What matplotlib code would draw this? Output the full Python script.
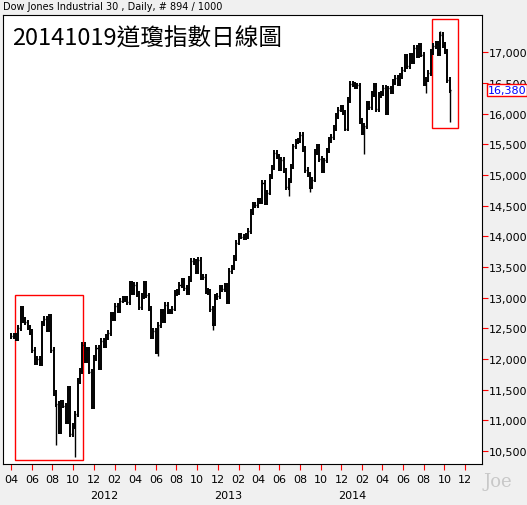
import matplotlib.pyplot as plt
import matplotlib.dates as mdates
import matplotlib.patches as mpatches
import pandas as pd

plt.rcParams['font.family'] = ['DejaVu Sans', 'Noto Sans CJK TC']

# weekly closes (Fri), starting 2011-04-01
closes = [
    12376, 12380, 12341, 12505, 12811, 12638, 12596, 12512, 12441, 12151,
    11952, 12004, 11934, 12582, 12657, 12480, 12681, 12143, 11444, 11269,
    10818, 11285, 11240, 10992, 11509, 10771, 10913, 11103, 11644, 11809,
    12231, 11983, 12153, 11796, 11231, 12019, 12184, 11867, 12294, 12218,
    12360, 12422, 12720, 12660, 12862, 12801, 12950, 12983, 12978, 12922,
    13233, 13081, 13212, 13060, 12850, 13029, 13228, 13038, 12820, 12369,
    12455, 12119, 12554, 12767, 12640, 12880, 12772, 12777, 12822, 13075,
    13096, 13207, 13275, 13158, 13090, 13306, 13593, 13579, 13437, 13610,
    13328, 13343, 13107, 13093, 12815, 12588, 13010, 13026, 13155, 13135,
    13190, 12938,
    13435, 13488, 13650, 13896, 14010, 13993, 13982, 14001, 14090, 14397,
    14515, 14512, 14579, 14565, 14865, 14548, 14712, 14974, 15118, 15354,
    15303, 15116, 15248, 15070, 14800, 14910, 15136, 15464, 15544, 15559,
    15658, 15425, 15081, 15010, 14810, 14922, 15376, 15452, 15258, 15073,
    15237, 15400, 15570, 15615, 15762, 15962, 16065, 16086, 16020, 15755,
    16221, 16479,
    16469, 16437, 16459, 15880, 15699, 15794, 16154, 16104, 16322, 16453,
    16066, 16303, 16323, 16413, 16027, 16409, 16361, 16513, 16584, 16492,
    16607, 16717, 16924, 16776, 16947, 16851, 17068, 16944, 17100, 16961,
    16493, 16553, 16663, 17001, 17098, 17138, 16988, 17280, 17113, 17009,
    16544, 16380,
]
# intraweek extremes that stick out
spike_dates = ['2011-08-12', '2011-10-07', '2012-06-08', '2012-11-16', '2013-06-28',
               '2013-08-30', '2014-02-07', '2014-08-08', '2014-09-19', '2014-10-17']
spike_vals = [10600, 10400, 12050, 12480, 14650, 14720, 15340, 16330, 17350, 15855]

dates = pd.date_range('2011-04-01', periods=len(closes), freq='W-FRI')

fig = plt.figure(figsize=(5.27, 5.06), dpi=100, facecolor='#f0f0f0')
ax = fig.add_axes([3/527, 41/506, 479/527, 449/506])
ax.set_facecolor('white')

pad = 45
prev = closes[0]
for d, c in zip(dates, closes):
    lo, hi = min(prev, c) - pad, max(prev, c) + pad
    ax.vlines(d, lo, hi, color='black', lw=1.4)
    ax.hlines(c, d, d + pd.Timedelta(days=3), color='black', lw=1)
    prev = c
for d, v in zip(pd.to_datetime(spike_dates), spike_vals):
    i = dates.get_indexer([d], method='nearest')[0]
    ax.vlines(dates[i], v, closes[i], color='black', lw=1)

ax.set_xlim(pd.Timestamp('2011-03-08'), pd.Timestamp('2015-01-20'))
ax.set_ylim(10290, 17605)

def box(x0, x1, y0, y1):
    a, b = mdates.date2num(pd.Timestamp(x0)), mdates.date2num(pd.Timestamp(x1))
    ax.add_patch(mpatches.Rectangle((a, y0), b - a, y1 - y0, fill=False, ec='red', lw=1))

box('2011-04-12', '2011-10-30', 10360, 13050)
box('2014-08-24', '2014-11-10', 15765, 17540)

ax.yaxis.tick_right()
ax.set_yticks(range(10500, 17001, 500))
ax.set_yticklabels([f'{v:,}' for v in range(10500, 17001, 500)], fontsize=8)
ax.tick_params(axis='y', colors='red', labelcolor='black', length=4, pad=1)
ax.xaxis.set_major_locator(mdates.MonthLocator(bymonth=[2, 4, 6, 8, 10, 12]))
ax.xaxis.set_major_formatter(mdates.DateFormatter('%m'))
ax.tick_params(axis='x', labelsize=8, length=4, colors='red', labelcolor='black')
ax.text(1.012, (16380 - 10290) / (17605 - 10290), '16,380', transform=ax.transAxes,
        color='blue', fontsize=8, va='center', ha='left', zorder=5,
        bbox=dict(boxstyle='square,pad=0.1', fc='white', ec='red', lw=1))

for yr in ['2012', '2013', '2014']:
    ax.text(mdates.date2num(pd.Timestamp(yr + '-01-01')), -0.068, yr, transform=ax.get_xaxis_transform(),
            ha='center', va='center', fontsize=8)

ax.text(0.02, 0.975, '20141019道瓊指數日線圖', transform=ax.transAxes, fontsize=17,
        va='top', ha='left', family=['Noto Sans CJK TC'])
fig.text(3/527, 1 - 7/506, 'Dow Jones Industrial 30 , Daily, # 894 / 1000', fontsize=7, va='center')
fig.text(498/527, 1 - 482/506, 'Joe', fontsize=13, color='#c8c8c8', ha='center', va='center', family='serif')

fig.savefig('out.png', dpi=100, facecolor=fig.get_facecolor())
